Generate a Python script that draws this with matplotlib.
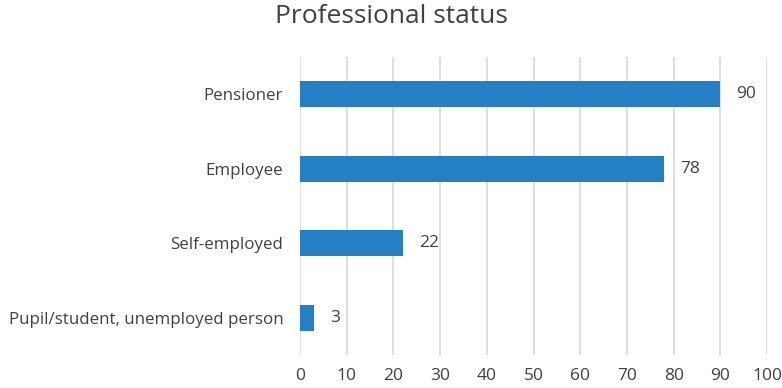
import matplotlib.pyplot as plt

categories = ["Pupil/student, unemployed person", "Self-employed", "Employee", "Pensioner"]
counts = [3, 22, 78, 90]
x_ticks = list(range(0, 101, 10))

plt.rcParams["font.family"] = ["Open Sans", "DejaVu Sans"]
text_color = "#404040"

fig = plt.figure(figsize=(7.82, 3.88), dpi=100)
ax = fig.add_axes([0.3836, 0.085, 0.5974, 0.768])

ypos = list(range(len(categories)))
ax.barh(ypos, counts, height=0.35, color="#2580C3", zorder=3)

for y, v in zip(ypos, counts):
    ax.text(v + 3.4, y, str(v), va="center", ha="left", fontsize=12.5, color=text_color)

ax.set_xlim(0, 100)
ax.set_ylim(-0.5, len(categories) - 0.5)
ax.set_xticks(x_ticks)
ax.set_yticks(ypos)
ax.set_yticklabels(categories)
ax.tick_params(axis="both", length=0, labelsize=12.5, colors=text_color)
ax.tick_params(axis="y", labelsize=12.2, pad=12)
ax.tick_params(axis="x", pad=9)
ax.xaxis.grid(True, color="#d9d9d9", linewidth=1.2, zorder=0)
for s in ax.spines.values():
    s.set_visible(False)

fig.text(0.5, 0.958, "Professional status", ha="center", va="center",
         fontsize=19, color=text_color)

fig.savefig("out.png", dpi=100)
